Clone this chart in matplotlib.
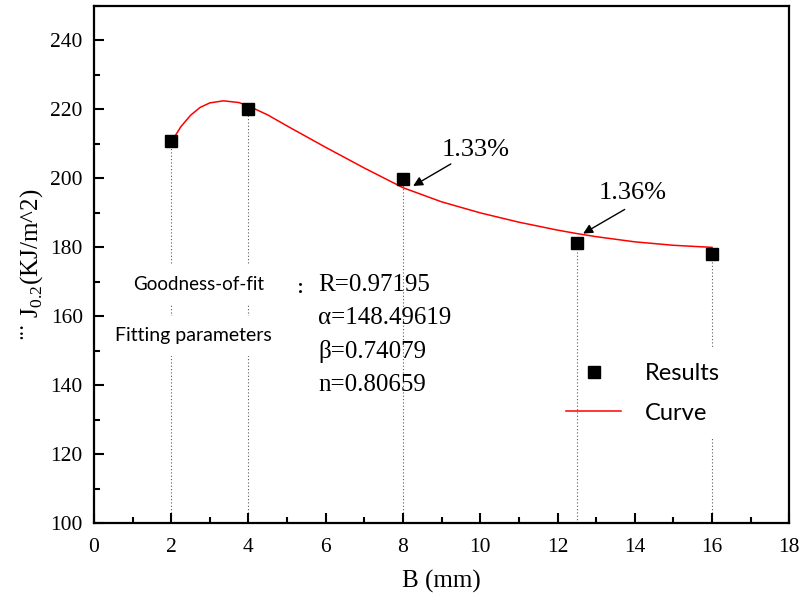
import matplotlib
matplotlib.use('Agg')
import matplotlib.pyplot as plt
from matplotlib.ticker import MultipleLocator

# measured results
b_vals = [2, 4, 8, 12.5, 16]
j_vals = [210.8, 220.0, 199.8, 181.2, 178.0]

# fitted curve
curve_b = [2.0, 2.25, 2.5, 2.75, 3.0, 3.35, 3.75, 4.0, 4.5, 5.0, 6.0, 7.0, 8.0,
           9.0, 10.0, 11.0, 12.0, 12.5, 13.0, 14.0, 15.0, 16.0]
curve_j = [210.5, 215.0, 218.3, 220.6, 221.9, 222.5, 222.0, 221.0, 218.4, 215.2,
           209.0, 203.0, 197.3, 193.2, 190.0, 187.3, 185.0, 184.0, 183.1, 181.6,
           180.6, 180.0]

fit_labels = ['R=0.97195', 'α=148.49619', 'β=0.74079', 'n=0.80659']
errors = ['1.33%', '1.36%']

serif = 'Liberation Serif'
sans = 'Lato'
plt.rcParams['font.family'] = [serif, 'DejaVu Sans']
plt.rcParams['mathtext.fontset'] = 'custom'
plt.rcParams['mathtext.rm'] = serif

fig = plt.figure(figsize=(8.03, 6.0), dpi=100)
ax = fig.add_axes([0.117, 0.128, 0.866, 0.862])

# dotted guides from each point down to the axis
for b, j in zip(b_vals, j_vals):
    ax.plot([b, b], [100, j], linestyle=(0, (1, 2)), color='0.35', lw=0.8, zorder=1)

ax.plot(b_vals, j_vals, 's', color='black', markersize=8.5, label='Results', zorder=4)
ax.plot(curve_b, curve_j, color='red', lw=1.1, label='Curve', zorder=3)

ax.set_xlim(0, 18)
ax.set_ylim(100, 250)
ax.xaxis.set_major_locator(MultipleLocator(2))
ax.xaxis.set_minor_locator(MultipleLocator(1))
ax.set_yticks([100, 120, 140, 160, 180, 200, 220, 240])
ax.yaxis.set_minor_locator(MultipleLocator(10))
ax.tick_params(which='both', direction='in', top=False, right=False, width=1.5)
ax.tick_params(which='major', length=7, labelsize=15.5)
ax.tick_params(axis='x', which='major', pad=11)
ax.tick_params(axis='y', which='major', pad=8)
ax.tick_params(which='minor', length=4)
for sp in ax.spines.values():
    sp.set_linewidth(1.6)

ax.set_xlabel('B (mm)', fontsize=18, labelpad=9)
ax.set_ylabel('¨˙ J$_{0.2}$(KJ/m^2)', fontsize=18, labelpad=4)

box = dict(facecolor='white', edgecolor='none', pad=8)
ax.text(2.72, 169.3, 'Goodness-of-fit', fontfamily=sans, fontsize=13.5,
        ha='center', va='center', bbox=box, zorder=5)
ax.text(2.58, 154.3, 'Fitting parameters', fontfamily=sans, fontsize=14,
        ha='center', va='center', bbox=box, zorder=5)
ax.text(5.34, 168.3, ':', fontfamily=sans, fontsize=14, fontweight='bold',
        ha='center', va='center', zorder=5)
for k, s in enumerate(fit_labels):
    ax.text(5.8, 169.2 - 9.7 * k, s, fontsize=18, ha='left', va='center', zorder=5)

# error annotations
ax.text(9.87, 208.3, errors[0], fontsize=19, ha='center', va='center')
ax.annotate('', xy=(8.2, 197.4), xytext=(9.3, 204.6),
            arrowprops=dict(arrowstyle='-|>', color='black', lw=1, mutation_scale=14))
ax.text(13.95, 195.8, errors[1], fontsize=19, ha='center', va='center')
ax.annotate('', xy=(12.6, 183.6), xytext=(13.8, 191.4),
            arrowprops=dict(arrowstyle='-|>', color='black', lw=1, mutation_scale=14))

leg = ax.legend(loc='upper left', bbox_to_anchor=(0.679, 0.31), frameon=False,
                prop={'family': sans, 'size': 17}, handlelength=2.33,
                handletextpad=1.0, labelspacing=0.8, borderpad=0, borderaxespad=0)
for t in leg.get_texts():
    t.set_bbox(dict(facecolor='white', edgecolor='none', pad=10))

fig.savefig('out.png', dpi=100)
